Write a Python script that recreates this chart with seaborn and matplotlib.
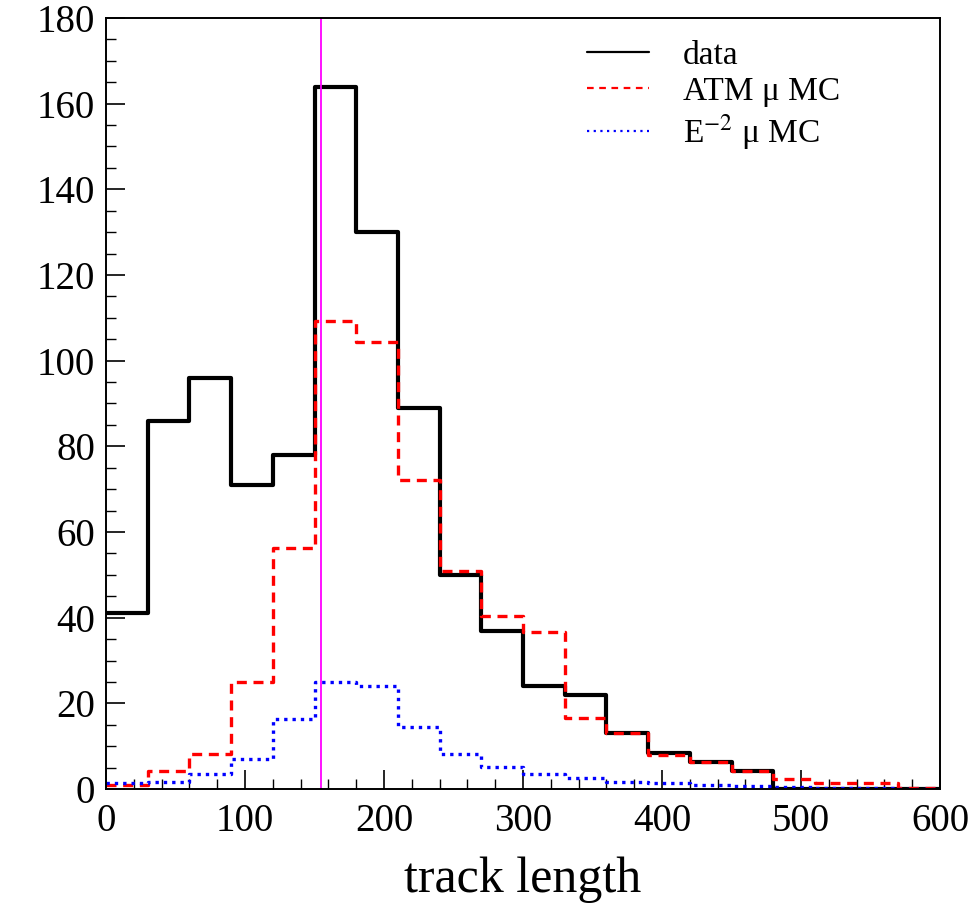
import numpy as np
import pandas as pd
import matplotlib
matplotlib.use("Agg")
import matplotlib.pyplot as plt
from matplotlib.lines import Line2D
import seaborn as sns

# ---- data ----
bin_edges = list(range(0, 601, 30))
data_counts = [41, 86, 96, 71, 78, 164, 130, 89, 50, 37, 24, 22, 13, 8.3, 6.2, 4.2, 0, 0, 0, 0]
atm_mc = [1.0, 4.3, 8.2, 25, 56.3, 109.3, 104.4, 72.1, 51, 40.4, 36.6, 16.6, 13, 7.9, 6.4, 4.2, 2.3, 1.3, 1.3, 0.3]
e2_mc = [1.4, 1.6, 3.6, 7.0, 16.3, 24.9, 24.0, 14.5, 8.2, 5.2, 3.4, 2.6, 1.7, 1.3, 0.9, 0.7, 0.4, 0.3, 0.2, 0.1]
cut_value = 155
series_labels = ["data", "ATM \u03bc MC", "E$^{\\mathrm{-2}}$ \u03bc MC"]
xticks = [0, 100, 200, 300, 400, 500, 600]
yticks = [0, 20, 40, 60, 80, 100, 120, 140, 160, 180]

sns.set_theme(style="white")
plt.rcParams["font.family"] = ["Liberation Serif", "DejaVu Serif"]
plt.rcParams["mathtext.fontset"] = "stix"
plt.rcParams["text.color"] = "black"
plt.rcParams["axes.labelcolor"] = "black"
plt.rcParams["xtick.color"] = "black"
plt.rcParams["ytick.color"] = "black"

centers = [(a + b) / 2 for a, b in zip(bin_edges[:-1], bin_edges[1:])]
df = pd.DataFrame({"x": centers, "data": data_counts, "atm": atm_mc, "e2": e2_mc})

fig = plt.figure(figsize=(9.71, 9.05), dpi=100)
ax = fig.add_axes([106 / 971, 1 - 789 / 905, 834 / 971, 771 / 905])

styles = [
    dict(color="black", linestyle="-"),
    dict(color="#ff0000", linestyle=(0, (3, 2))),
    dict(color="#0000ff", linestyle=(0, (1, 1.5))),
]
sns.histplot(data=df, x="x", weights="data", bins=bin_edges, element="step", fill=False,
             linewidth=3.0, ax=ax, **styles[0])
sns.histplot(data=df, x="x", weights="atm", bins=bin_edges, element="step", fill=False,
             linewidth=2.4, ax=ax, **styles[1])
sns.histplot(data=df, x="x", weights="e2", bins=bin_edges, element="step", fill=False,
             linewidth=2.4, ax=ax, **styles[2])
ax.axvline(cut_value, color="#ff00ff", linewidth=1.3)

ax.set_xlim(0, 600)
ax.set_ylim(0, 180)
ax.set_xticks(xticks)
ax.set_yticks(yticks)
ax.set_xticks(np.arange(0, 601, 20), minor=True)
ax.set_yticks(np.arange(0, 181, 5), minor=True)
ax.tick_params(axis="both", which="both", bottom=True, left=True, top=False, right=False,
               direction="in", colors="black")
ax.tick_params(axis="both", which="major", length=14, width=1.2, labelsize=28)
ax.tick_params(axis="both", which="minor", length=7, width=1.0)
ax.tick_params(axis="x", which="major", pad=10)
ax.tick_params(axis="y", which="major", pad=8)
for sp in ax.spines.values():
    sp.set_visible(True)
    sp.set_color("black")
    sp.set_linewidth(1.4)

ax.set_xlabel("track length", fontsize=36, labelpad=12, color="black")
ax.set_ylabel("")

handles = [
    Line2D([], [], color="black", linewidth=1.6, linestyle="-"),
    Line2D([], [], color="#ff0000", linewidth=1.6, linestyle=(0, (3, 2.5))),
    Line2D([], [], color="#0000ff", linewidth=1.6, linestyle=(0, (1, 2))),
]
leg = ax.legend(handles, series_labels, loc="upper left", bbox_to_anchor=(0.577, 0.971),
                frameon=False, fontsize=24, handlelength=1.86, handletextpad=1.0,
                labelspacing=0.17, borderpad=0.0, borderaxespad=0.0)

fig.savefig("out.png", dpi=100, facecolor="white")
